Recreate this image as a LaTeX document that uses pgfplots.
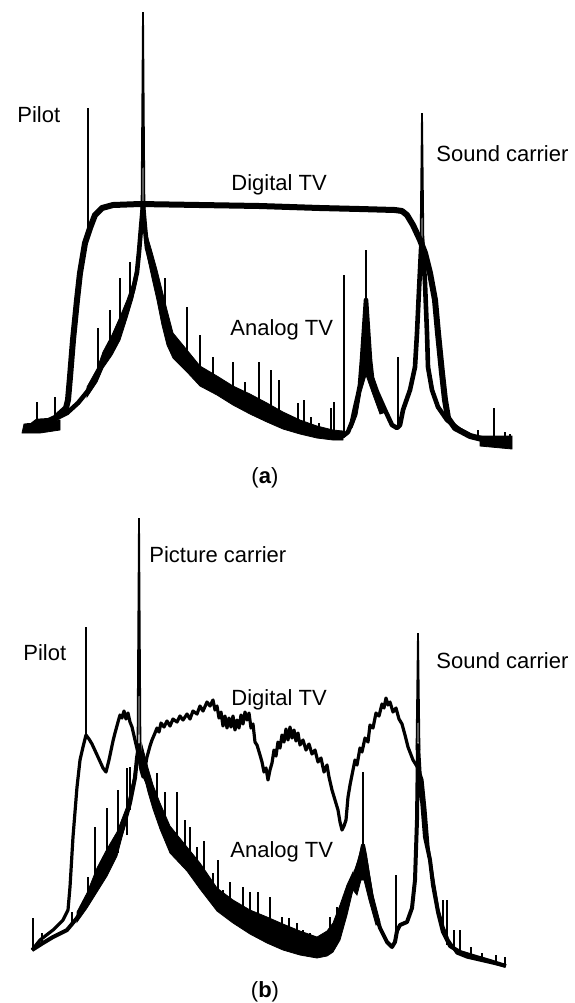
\documentclass[border=0pt]{standalone}
\usepackage{fontspec}
\setmainfont{Liberation Sans}
\usepackage{pgfplots}
\pgfplotsset{compat=1.18}
\begin{document}
\begin{tikzpicture}
\pgfplotsset{
  panel/.style={width=287pt, scale only axis, xmin=0, xmax=574, y dir=reverse,
    hide axis, clip=false, unbounded coords=jump},
}
\tikzset{lbl/.style={font=\fontsize{11}{13}\selectfont, inner sep=0pt}}
\path (0,0) rectangle (287pt,-501.5pt);
% ---------------- panel (a) ----------------
\begin{axis}[panel, at={(0,0)}, anchor=north west, height=250pt, ymin=0, ymax=500]
% digital TV
\addplot[black, line width=3pt, line join=round] coordinates {
(28,430)(40,425)(55,418)(66,408)(68,400)(70,377)(73,340)(77,300)(80,273)(85,243)(90,228)(95,215)(102,208)(113,205)(140,204)(200,205)(260,206)(320,208)(360,209)(395,210)(402,211)(407,215)(413,225)(420,240)(425,253)(430,273)(435,300)(438,333)(442,373)(445,400)(448,418)(455,428)(470,436)(490,441)(510,443)};
% analog TV body
\addplot[black, line width=2.3pt, line join=round] coordinates {
(28,428)(37,421)(53,420)(67,413)(78,403)(87,392)(97,376)(103,361)(112,345)(120,328)(127,309)(133,290)(137,272)(139,252)(141,228)(143,205)(145,228)(147,248)(152,266)(157,287)(162,307)(167,328)(173,347)(183,362)(197,377)(210,386)(220,392)(233,398)(250,406)(267,414)(283,421)(300,428)(317,433)(333,436)(343,436)(348,432)(352,422)(355,408)(358,395)(360,385)(362,360)(364,330)(366,300)(368,330)(370,360)(372,378)(377,392)(385,410)(392,425)(397,428)(400,425)(403,410)(410,390)(415,367)(417,333)(419,290)(421,250)(422,240)(423,250)(425,283)(427,333)(428,367)(432,390)(438,407)(447,420)(460,430)(473,437)(487,440)(510,444)};
% analog dense bands
\addplot[black, fill=black, line width=0.4pt] coordinates {
(87,387)(97,369)(103,352)(112,335)(120,317)(127,300)(133,283)(137,265)(139,245)(139,258)(137,280)(133,298)(127,318)(120,340)(112,355)(103,368)(97,382)(87,397)} -- cycle;
\addplot[black, fill=black, line width=0.4pt] coordinates {
(147,235)(152,252)(157,270)(162,290)(167,310)(173,333)(187,350)(200,366)(217,376)(233,386)(250,394)(267,403)(283,412)(300,420)(317,426)(333,430)(343,431)(343,440)(333,440)(317,438)(300,434)(283,429)(267,422)(250,414)(233,405)(217,395)(200,386)(187,372)(173,358)(167,345)(162,325)(157,300)(152,278)(147,255)} -- cycle;
\addplot[black, fill=black, line width=0.4pt] coordinates {
(352,428)(357,405)(361,382)(364,345)(366,320)(368,345)(372,372)(378,392)(386,412)(380,414)(372,392)(366,375)(361,392)(357,415)} -- cycle;
\addplot[black, fill=black, line width=0.4pt] coordinates {
(22,433)(24,424)(36,423)(50,421)(60,420)(60,430)(40,433)} -- cycle;
\addplot[black, fill=black, line width=0.4pt] coordinates {
(480,436)(512,436)(512,449)(480,446)} -- cycle;
% spikes
\addplot[black, line width=1.1pt] coordinates {
(28,433)(28,423)(28,nan)
(37,421)(37,402)(37,nan)
(55,420)(55,397)(55,nan)
(98,377)(98,328)(98,nan)
(110,350)(110,310)(110,nan)
(120,330)(120,278)(120,nan)
(130,305)(130,262)(130,nan)
(165,318)(165,278)(165,nan)
(187,365)(187,307)(187,nan)
(200,380)(200,335)(200,nan)
(213,392)(213,357)(213,nan)
(233,400)(233,362)(233,nan)
(245,405)(245,382)(245,nan)
(259,412)(259,362)(259,nan)
(271,418)(271,370)(271,nan)
(279,422)(279,380)(279,nan)
(298,430)(298,403)(298,nan)
(304,432)(304,400)(304,nan)
(311,435)(311,417)(311,nan)
(319,437)(319,423)(319,nan)
(331,438)(331,408)(331,nan)
(334,438)(334,402)(334,nan)
(344,437)(344,275)(344,nan)
(398,425)(398,357)(398,nan)
(478,440)(478,430)(478,nan)
(494,440)(494,408)(494,nan)
(505,445)(505,432)(505,nan)
(510,447)(510,434)};
% carriers
\addplot[black, line width=0.9pt] coordinates {
(88,232)(88,108)(88,nan)
(141.5,215)(143,12)(144.5,215)(144.5,nan)
(366,305)(366,250)(366,nan)
(420.5,250)(422,113)(423.5,250)};
\node[lbl, anchor=base west] at (axis cs:17,122) {Pilot};
\node[lbl, anchor=base west] at (axis cs:231,190) {Digital TV};
\node[lbl, anchor=base west] at (axis cs:230,335) {Analog TV};
\node[lbl, anchor=base west] at (axis cs:436,161) {Sound carrier};
\node[lbl, anchor=base] at (axis cs:265,483) {(\textbf{a})};
\end{axis}
% ---------------- panel (b) ----------------
\begin{axis}[panel, at={(0,-250pt)}, anchor=north west, height=251.5pt, ymin=500, ymax=1003]
% digital TV
\addplot[black, line width=1.6pt, line join=round] coordinates {
(32,950)(40,940)(53,930)(63,920)(68,910)(70,887)(73,837)(77,787)(80,760)(83,747)(86,735)(89,739)(92,744)(98,757)(103,768)(106,772)(109,760)(113,741)(115,733)(118,722)(120,715)(122,718)(124,711)(126,719)(128,713)(130,722)(132,727)(135,740)(138,753)(141,770)(143,777)(145,768)(147,757)(150,746)(152,740)(155,733)(157,728)(159,732)(161,723)(164,727)(167,721)(170,726)(173,719)(177,722)(180,716)(183,720)(187,714)(190,719)(193,711)(197,714)(200,706)(203,711)(207,702)(210,706)(213,700)(215,710)(217,706)(219,718)(221,712)(223,726)(225,716)(227,728)(229,718)(231,727)(233,716)(235,730)(237,720)(239,728)(241,715)(243,724)(245,712)(247,720)(249,713)(251,728)(253,724)(255,742)(257,745)(260,755)(262,762)(264,772)(266,768)(268,780)(270,770)(272,763)(274,750)(276,756)(278,742)(280,748)(282,735)(284,742)(286,729)(288,740)(290,727)(292,738)(294,730)(296,741)(298,733)(300,745)(303,740)(306,750)(309,744)(312,754)(315,750)(318,762)(321,758)(324,772)(327,765)(329,777)(332,790)(335,800)(338,810)(340,822)(342,830)(344,826)(346,820)(348,797)(350,785)(352,775)(355,760)(357,765)(360,748)(362,752)(365,738)(368,742)(370,725)(373,728)(376,713)(379,716)(382,704)(384,708)(386,698)(388,705)(390,702)(393,712)(396,708)(399,719)(402,724)(405,735)(408,747)(413,760)(418,768)(422,780)(425,810)(428,847)(433,880)(438,910)(443,927)(448,940)(457,953)(467,957)(480,960)(493,963)(505,966)};
% analog TV body
\addplot[black, line width=2pt, line join=round] coordinates {
(32,950)(43,943)(53,937)(67,930)(77,918)(87,902)(97,882)(107,864)(117,846)(123,828)(130,803)(135,778)(137,758)(139,745)(141,760)(144,775)(148,784)(153,800)(160,818)(170,840)(183,858)(197,876)(208,892)(217,900)(233,912)(250,922)(267,930)(283,937)(300,944)(317,948)(327,943)(333,938)(340,922)(347,900)(353,880)(358,866)(361,855)(363,845)(365,855)(368,875)(373,905)(380,928)(387,942)(392,947)(395,942)(397,931)(400,925)(407,922)(412,908)(415,880)(417,820)(418,745)(420,780)(422,800)(425,837)(430,860)(433,885)(438,912)(443,932)(450,946)(460,952)(473,956)(490,961)(506,966)};
% analog dense bands
\addplot[black, fill=black, line width=0.4pt] coordinates {
(77,912)(87,893)(97,868)(107,849)(117,832)(127,806)(133,780)(137,755)(137,765)(133,790)(127,818)(117,856)(107,876)(97,892)(87,908)(77,922)} -- cycle;
\addplot[black, fill=black, line width=0.4pt] coordinates {
(142,745)(148,768)(153,785)(160,803)(170,826)(187,847)(200,863)(217,888)(233,900)(250,910)(267,917)(283,924)(300,931)(317,937)(327,931)(333,923)(340,905)(347,885)(353,872)(353,890)(347,915)(340,940)(333,952)(327,956)(317,958)(300,955)(283,950)(267,943)(250,934)(233,923)(217,911)(200,889)(187,871)(170,853)(160,829)(153,809)(148,792)(142,768)} -- cycle;
\addplot[black, fill=black, line width=0.4pt] coordinates {
(353,875)(358,860)(362,845)(364,845)(368,865)(373,895)(380,922)(376,925)(369,900)(364,880)(361,880)(357,895)(353,890)} -- cycle;
% spikes
\addplot[black, line width=1.1pt] coordinates {
(33,950)(33,918)(33,nan)
(42,945)(42,933)(42,nan)
(72,925)(72,912)(72,nan)
(88,905)(88,877)(88,nan)
(95,893)(95,827)(95,nan)
(100,887)(100,863)(100,nan)
(107,873)(107,808)(107,nan)
(112,865)(112,843)(112,nan)
(118,853)(118,790)(118,nan)
(127,835)(127,768)(127,nan)
(130,810)(130,767)(130,nan)
(157,817)(157,773)(157,nan)
(165,835)(165,792)(165,nan)
(177,855)(177,792)(177,nan)
(185,865)(185,820)(185,nan)
(190,870)(190,827)(190,nan)
(197,880)(197,847)(197,nan)
(204,892)(204,841)(204,nan)
(213,903)(213,873)(213,nan)
(218,907)(218,860)(218,nan)
(223,912)(223,890)(223,nan)
(230,918)(230,882)(230,nan)
(243,925)(243,887)(243,nan)
(250,930)(250,892)(250,nan)
(258,933)(258,892)(258,nan)
(270,940)(270,897)(270,nan)
(282,945)(282,917)(282,nan)
(289,947)(289,918)(289,nan)
(297,950)(297,923)(297,nan)
(303,952)(303,930)(303,nan)
(310,955)(310,933)(310,nan)
(318,957)(318,940)(318,nan)
(330,950)(330,917)(330,nan)
(337,940)(337,907)(337,nan)
(345,920)(345,900)(345,nan)
(396,930)(396,875)(396,nan)
(443,933)(443,900)(443,nan)
(447,945)(447,900)(447,nan)
(454,948)(454,930)(454,nan)
(460,952)(460,930)(460,nan)
(471,957)(471,947)(471,nan)
(482,960)(482,953)(482,nan)
(496,963)(496,955)(496,nan)
(505,967)(505,957)};
% carriers
\addplot[black, line width=0.9pt] coordinates {
(86,737)(86,627)(86,nan)
(137.5,750)(139,518)(140.5,750)(140.5,nan)
(363,850)(363,772)(363,nan)
(416.5,750)(418,633)(419.5,750)};
\node[lbl, anchor=base west] at (axis cs:149,562) {Picture carrier};
\node[lbl, anchor=base west] at (axis cs:23,660) {Pilot};
\node[lbl, anchor=base west] at (axis cs:436,668) {Sound carrier};
\node[lbl, anchor=base west] at (axis cs:231,705) {Digital TV};
\node[lbl, anchor=base west] at (axis cs:230,857) {Analog TV};
\node[lbl, anchor=base] at (axis cs:265,997) {(\textbf{b})};
\end{axis}
\end{tikzpicture}
\end{document}
